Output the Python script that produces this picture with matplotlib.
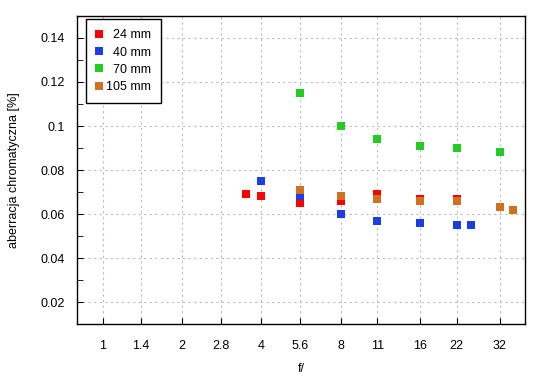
import numpy as np
import matplotlib.pyplot as plt
from matplotlib.ticker import FixedLocator, NullLocator, MultipleLocator

plt.rcParams['font.family'] = ['Liberation Sans', 'DejaVu Sans']

ticks = [1, 1.4, 2, 2.8, 4, 5.6, 8, 11, 16, 22, 32]
tick_labels = ['1', '1.4', '2', '2.8', '4', '5.6', '8', '11', '16', '22', '32']

f_24 = [3.5, 4, 5.6, 8, 11, 16, 22]
ca_24 = [0.069, 0.068, 0.065, 0.066, 0.069, 0.067, 0.067]

f_40 = [4, 5.6, 8, 11, 16, 22, 25]
ca_40 = [0.075, 0.068, 0.060, 0.057, 0.056, 0.055, 0.055]

f_70 = [5.6, 8, 11, 16, 22, 32]
ca_70 = [0.115, 0.100, 0.094, 0.091, 0.090, 0.088]

f_105 = [5.6, 8, 11, 16, 22, 32, 36]
ca_105 = [0.071, 0.068, 0.067, 0.066, 0.066, 0.063, 0.062]

fig = plt.figure(figsize=(5.5, 3.8), dpi=100)
ax = fig.add_axes([0.14, 0.147, 0.815, 0.811])

ms = 5.2
ax.plot(f_24, ca_24, 's', color='#ff0000', ms=ms, mew=0, label='  24 mm')
ax.plot(f_40, ca_40, 's', color='#1a3de6', ms=ms, mew=0, label='  40 mm')
ax.plot(f_70, ca_70, 's', color='#22cc22', ms=ms, mew=0, label='  70 mm')
ax.plot(f_105, ca_105, 's', color='#d07020', ms=ms, mew=0, label='105 mm')

ax.set_xscale('log')
ax.set_xlim(0.8, 40)
ax.set_ylim(0.01, 0.15)
ax.xaxis.set_major_locator(FixedLocator(ticks))
ax.set_xticklabels(tick_labels)
ax.xaxis.set_minor_locator(NullLocator())
ax.yaxis.set_major_locator(FixedLocator([0.02, 0.04, 0.06, 0.08, 0.1, 0.12, 0.14]))
ax.set_yticklabels(['0.02', '0.04', '0.06', '0.08', '0.1', '0.12', '0.14'])
ax.yaxis.set_minor_locator(MultipleLocator(0.01))

ax.tick_params(direction='in', length=4, labelsize=9, top=False, right=False)
ax.tick_params(axis='x', pad=11.5)
ax.tick_params(axis='y', pad=9)
ax.tick_params(which='minor', direction='in', length=4, top=False, right=False)
ax.grid(True, color='#bbbbbb', linestyle=(0, (2, 3)), linewidth=0.8)
for s in ax.spines.values():
    s.set_linewidth(1.0)

ax.set_xlabel('f/', fontsize=9, labelpad=8)
ax.set_ylabel('aberracja chromatyczna [%]', fontsize=9, labelpad=14.5)

leg = ax.legend(loc='upper left', bbox_to_anchor=(0.019, 0.989), fontsize=9,
                frameon=True, fancybox=False, framealpha=1, edgecolor='black',
                handletextpad=0.25, handlelength=0.6, borderpad=0.8,
                borderaxespad=0, labelspacing=0.42, markerscale=1.1)
leg.get_frame().set_linewidth(1.0)

fig.savefig('out.png', dpi=100)
